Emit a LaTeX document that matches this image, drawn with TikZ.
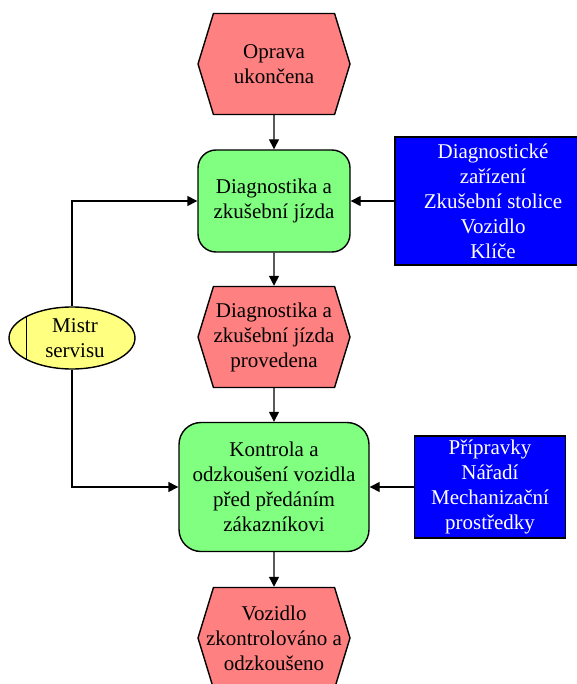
\documentclass[tikz,border=0pt]{standalone}
\usepackage{fontspec}
\setmainfont{Liberation Serif}
\usetikzlibrary{shapes.symbols,shapes.geometric,arrows.meta}
\definecolor{eventcol}{HTML}{FF8080}
\definecolor{funccol}{HTML}{80FF80}
\definecolor{rescol}{HTML}{0000FF}
\definecolor{orgcol}{HTML}{FFFF80}

\begin{document}
\begin{tikzpicture}[x=1pt, y=-1pt,
		every node/.style={font=\fontsize{21}{25}\selectfont, align=center, inner sep=0pt},
		event/.style={signal, signal to=west and east, signal pointer angle=146, draw, line width=1.4pt, fill=eventcol, inner xsep=-12pt, minimum width=152pt, minimum height=101pt},
		func/.style={rectangle, rounded corners=18pt, draw, line width=1.4pt, fill=funccol},
		res/.style={rectangle, draw, line width=1.9pt, fill=rescol, text=white},
		org/.style={ellipse, draw, line width=1.4pt, fill=orgcol, minimum width=126pt, minimum height=62pt},
		flow/.style={line width=1.4pt, -{Triangle[length=10pt,width=10pt]}}]
		\useasboundingbox (0,0) rectangle (576,684);
		\node[event] (e1) at (274, 64) {Oprava\\ukončena};
		\node[func, minimum width=152pt, minimum height=102pt] (f1) at (274, 201) {Diagnostika a\\zkušební jízda};
		\node[event] (e2) at (274, 337) {Diagnostika a\\zkušební jízda\\provedena};
		\node[func, rounded corners=22pt, minimum width=190pt, minimum height=129pt] (f2) at (274, 487) {Kontrola a\\odzkoušení vozidla\\před předáním\\zákazníkovi};
		\node[event] (e3) at (274, 638) {Vozidlo\\zkontrolováno a\\odzkoušeno};
		\node[res, minimum width=210pt, minimum height=128pt] (b1) at (500, 201) {\hspace{-14pt}Diagnostické\\\hspace{-14pt}zařízení\\\hspace{-14pt}Zkušební stolice\\\hspace{-14pt}Vozidlo\\\hspace{-14pt}Klíče};
		\node[res, minimum width=151pt, minimum height=102pt] (b2) at (490, 487) {Přípravky\\Nářadí\\Mechanizační\\prostředky};
		\node[org] (m) at (72, 338) {\hspace{6pt}Mistr\\\hspace{6pt}servisu};
		\draw[line width=1.4pt] (m.154) -- (m.206);
		\draw[flow] (e1) -- (f1);
		\draw[flow] (f1) -- (e2);
		\draw[flow] (e2) -- (f2);
		\draw[flow] (f2) -- (e3);
		\draw[flow] (b1) -- (f1);
		\draw[flow] (b2) -- (f2);
		\draw[flow] (m.north) |- (f1.west);
		\draw[flow] (m.south) |- (f2.west);
	\end{tikzpicture}
\end{document}
